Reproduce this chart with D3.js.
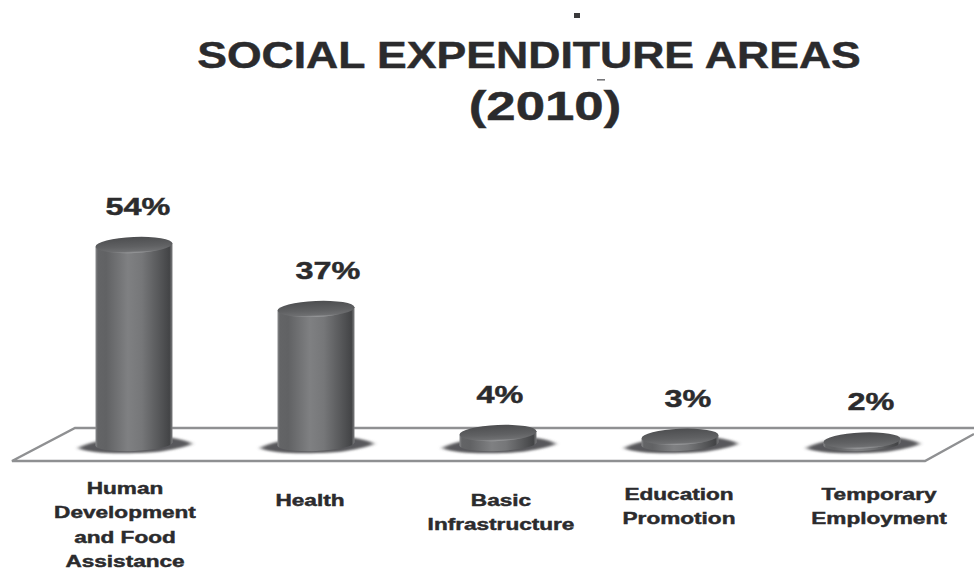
<!DOCTYPE html>
<html>
<head>
<meta charset="utf-8">
<script src="https://cdn.jsdelivr.net/npm/d3@7/dist/d3.min.js"></script>
<style>
  html, body { margin: 0; padding: 0; background: #fff; }
  svg { display: block; }
  text { font-family: "Liberation Sans", Arial, sans-serif; font-weight: bold; fill: #2b2b2d; stroke: #2b2b2d; stroke-width: 0.45; }
</style>
</head>
<body>
<svg id="chart" width="974" height="571"></svg>
<script>
// Social expenditure shares, 2010
const categories = ["Human Development and Food Assistance", "Health", "Basic Infrastructure", "Education Promotion", "Temporary Employment"];
const shares = [54, 37, 4, 3, 2];
const categoryLines = [
  ["Human", "Development", "and  Food", "Assistance"],
  ["Health"],
  ["Basic", "Infrastructure"],
  ["Education", "Promotion"],
  ["Temporary", "Employment"]
];
const titleLines = ["SOCIAL EXPENDITURE AREAS", "(2010)"];

const W = 974, H = 571;
const svg = d3.select("#chart").attr("viewBox", `0 0 ${W} ${H}`);

const x = d3.scalePoint().domain(categories).range([134, 862]);
const y = d3.scaleLinear().domain([0, 54]).range([448, 245]);

// Small per-column nudges for the text above and below the columns
const valueDx = [4, 12, 2, 8, 9];
const nameDx = [-9, -6, 3, -1, 17];
const nameFirstBaseline = [494, 506, 506, 500, 500];

const cylW = 77, rx = cylW / 2, ry = 8, tilt = -2.5;
const baseY = 444;
const dy = Math.sin(-tilt * Math.PI / 180) * rx;

const defs = svg.append("defs");

const bodyGrad = defs.append("linearGradient").attr("id", "body");
[[0, "#8a8b8d"], [0.03, "#636466"], [0.14, "#616264"], [0.42, "#7f8082"], [0.6, "#767779"], [0.85, "#535456"], [0.96, "#434446"], [1, "#7d7e80"]]
  .forEach(([o, c]) => bodyGrad.append("stop").attr("offset", o).attr("stop-color", c));

const capGrad = defs.append("linearGradient").attr("id", "cap").attr("x1", 0).attr("x2", 0).attr("y1", 0).attr("y2", 1);
[[0, "#4d4e50"], [0.6, "#606163"], [0.88, "#6e6f71"], [1, "#9c9d9f"]]
  .forEach(([o, c]) => capGrad.append("stop").attr("offset", o).attr("stop-color", c));

defs.append("filter").attr("id", "soft").attr("x", "-30%").attr("y", "-80%").attr("width", "160%").attr("height", "260%")
  .append("feGaussianBlur").attr("stdDeviation", "2.6 1.3");

// Floor slab under the columns
svg.append("path")
  .attr("d", d3.line()([[974, 434], [925, 461], [12, 461], [75, 428], [974, 428]]))
  .attr("fill", "none")
  .attr("stroke", "#8f9092")
  .attr("stroke-width", 2.4);

const col = svg.selectAll("g.column")
  .data(categories.map((c, i) => ({ c, v: shares[i], i })))
  .join("g")
  .attr("class", "column");

// Cast shadow on the floor
col.append("path")
  .attr("d", d => {
    const cx = x(d.c);
    return d3.line().curve(d3.curveCardinalClosed.tension(0.15))([
      [cx - 55, baseY + 4], [cx - 28, baseY + 9], [cx + 22, baseY + 8],
      [cx + 57, baseY], [cx + 30, baseY - 7], [cx - 25, baseY - 5]
    ]);
  })
  .attr("fill", "#59595b")
  .attr("filter", "url(#soft)");

// Column wall: straight sides with a rounded foot
col.append("path")
  .attr("d", d => {
    const cx = x(d.c), top = y(d.v);
    return `M${cx - rx},${top + dy} L${cx - rx},${baseY + dy} ` +
      `A${rx},${ry - 1} ${tilt} 0 0 ${cx + rx},${baseY - dy} L${cx + rx},${top - dy} Z`;
  })
  .attr("fill", "url(#body)");

// Column cap
col.append("ellipse")
  .attr("cx", 0).attr("cy", 0).attr("rx", rx).attr("ry", ry)
  .attr("transform", d => `translate(${x(d.c)},${y(d.v)}) rotate(${tilt})`)
  .attr("fill", "url(#cap)");

// Share above each column
col.append("text")
  .attr("transform", d => `translate(${x(d.c) + valueDx[d.i]},${y(d.v) - 30}) scale(1.35,1)`)
  .attr("text-anchor", "middle")
  .attr("font-size", 24)
  .text(d => d.v + "%");

// Category names, one text element per line
col.each(function (d) {
  d3.select(this).selectAll("text.name")
    .data(categoryLines[d.i])
    .join("text")
    .attr("class", "name")
    .attr("transform", (line, j) => `translate(${x(d.c) + nameDx[d.i]},${nameFirstBaseline[d.i] + j * 24.4}) scale(1.37,1)`)
    .attr("text-anchor", "middle")
    .attr("font-size", 16.5)
    .text(line => line);
});

// Title
const titleAt = [[529, 68, 37, 1.205], [545, 120, 40, 1.32]];
svg.selectAll("text.title")
  .data(titleLines)
  .join("text")
  .attr("class", "title")
  .attr("text-anchor", "middle")
  .attr("transform", (d, i) => `translate(${titleAt[i][0]},${titleAt[i][1]}) scale(${titleAt[i][3]},1)`)
  .attr("font-size", (d, i) => titleAt[i][2])
  .text(d => d);

// Stray printer's marks near the title
svg.append("rect").attr("x", 574).attr("y", 13).attr("width", 6).attr("height", 5).attr("fill", "#3a3a3c");
svg.append("rect").attr("x", 597).attr("y", 79).attr("width", 8).attr("height", 1.6).attr("fill", "#77777a");
</script>
</body>
</html>
